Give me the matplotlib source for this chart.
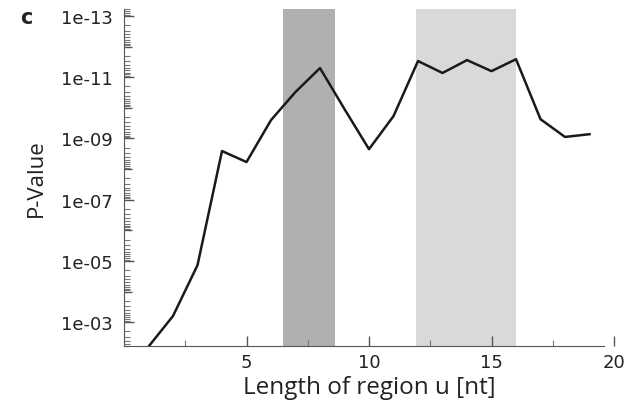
import matplotlib
matplotlib.use('Agg')
import matplotlib.pyplot as plt
import numpy as np
from matplotlib.ticker import LogLocator, FixedLocator, NullFormatter

# region length u [nt] and the P-value (as -log10)
lengths = [1, 2, 3, 4, 5, 6, 7, 8, 9, 10, 11, 12, 13, 14, 15, 16, 17, 18, 19]
neg_log_p = [2.2, 3.2, 4.86, 8.59, 8.23, 9.6, 10.52, 11.3, 9.96, 8.65,
             9.73, 11.53, 11.14, 11.56, 11.2, 11.59, 9.63, 9.05, 9.14]
p_values = [10 ** (-v) for v in neg_log_p]

dark_band = (6.5, 8.6)
light_band = (11.9, 16.0)

ytick_vals = [1e-3, 1e-5, 1e-7, 1e-9, 1e-11, 1e-13]
ytick_labels = ['1e-03', '1e-05', '1e-07', '1e-09', '1e-11', '1e-13']
ytick_mid = [1e-4, 1e-6, 1e-8, 1e-10, 1e-12]
xtick_vals = [5, 10, 15, 20]

fig = plt.figure(figsize=(6.29, 4.10), dpi=100)
ax = fig.add_axes([124/629, 1 - 347/410, (614 - 124)/629, (347 - 10)/410])

ax.axvspan(*dark_band, color='#b0b0b1', lw=0, zorder=0)
ax.axvspan(*light_band, color='#d8d9db', lw=0, zorder=0)

ax.plot(lengths, p_values, color='#1a1a1a', lw=1.8, zorder=3)

ax.set_yscale('log')
ax.set_ylim(10 ** -2.22, 10 ** -13.23)
ax.set_xlim(0, 20)

ax.yaxis.set_major_locator(FixedLocator(ytick_vals))
ax.set_yticklabels(ytick_labels)
ax.yaxis.set_minor_locator(LogLocator(base=10, subs=np.arange(2, 10), numticks=50))
ax.yaxis.set_minor_formatter(NullFormatter())

# unlabeled decade ticks between the labelled ones
sec = ax.secondary_yaxis('left')
sec.set_yticks(ytick_mid)
sec.set_yticklabels([])
sec.tick_params(direction='in', length=6, width=1, color='#555555')
sec.spines['left'].set_visible(False)

ax.xaxis.set_major_locator(FixedLocator(xtick_vals))
ax.xaxis.set_minor_locator(FixedLocator([2.5, 7.5, 12.5, 17.5]))

for s in ['top', 'right']:
    ax.spines[s].set_visible(False)
ax.spines['bottom'].set_bounds(0, 19.6)
ax.spines['left'].set_color('#555555')
ax.spines['bottom'].set_color('#555555')

ax.tick_params(axis='both', which='major', direction='in', length=7, width=1,
               color='#555555', labelsize=13, labelcolor='#222222')
ax.tick_params(axis='both', which='minor', direction='in', length=4, width=0.8,
               color='#777777')
ax.tick_params(axis='y', pad=8)
ax.tick_params(axis='x', pad=5)

ax.set_xlabel('Length of region u [nt]', fontsize=17.5, color='#222222',
              family=['Open Sans', 'DejaVu Sans'], labelpad=3)
ax.set_ylabel('P-Value', fontsize=16, color='#222222',
              family=['Open Sans', 'DejaVu Sans'], labelpad=10)

fig.text(20/629, 1 - 18/410, 'c', fontsize=15, fontweight='bold',
         ha='left', va='center', color='#222222')

fig.savefig('out.png', dpi=100)
